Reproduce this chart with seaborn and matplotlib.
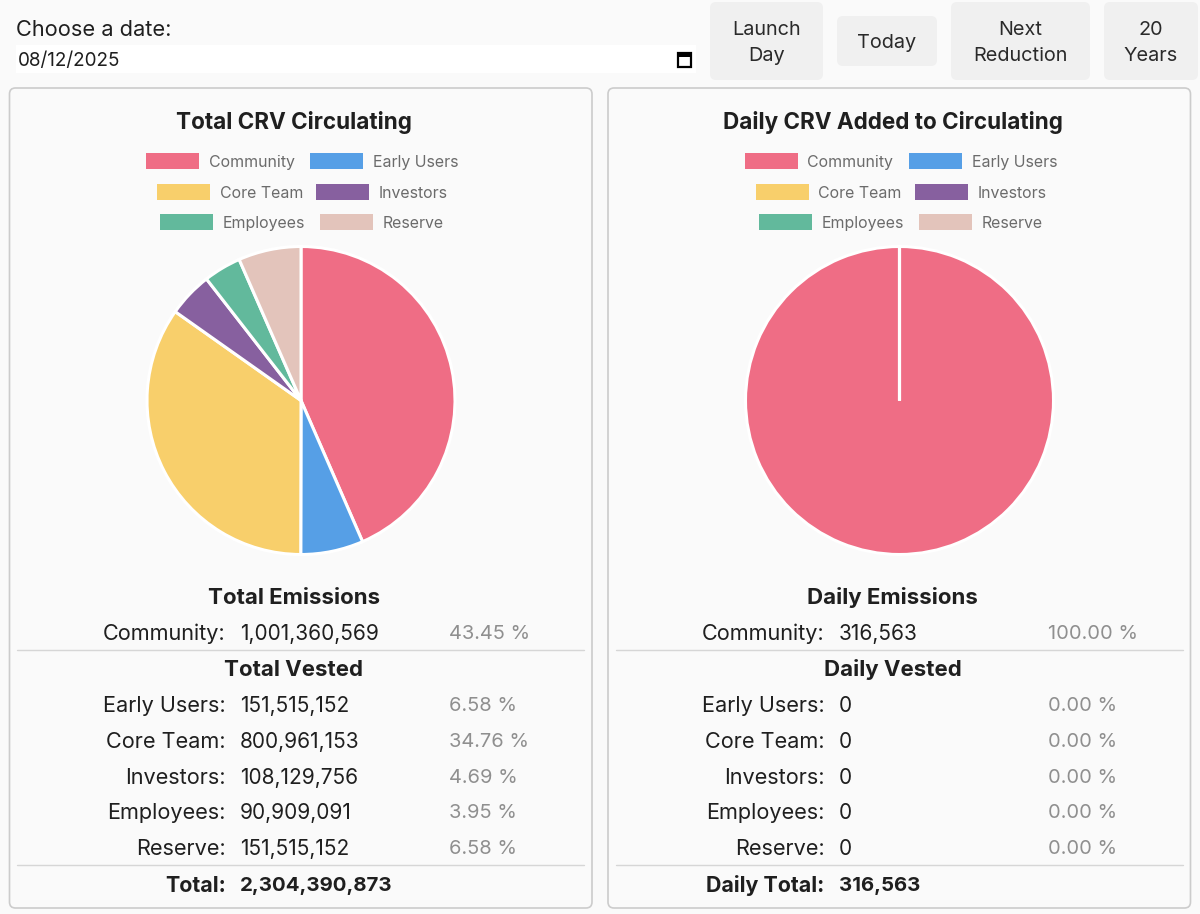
"""
Two CRV emission pies with their legends and breakdown tables.
"""
import matplotlib.pyplot as plt
import seaborn as sns
from matplotlib.patches import FancyBboxPatch, Rectangle

categories = ['Community', 'Early Users', 'Core Team', 'Investors', 'Employees', 'Reserve']
total_values = [1001360569, 151515152, 800961153, 108129756, 90909091, 151515152]
total_pcts = ['43.45 %', '6.58 %', '34.76 %', '4.69 %', '3.95 %', '6.58 %']
daily_values = [316563, 0, 0, 0, 0, 0]
daily_pcts = ['100.00 %', '0.00 %', '0.00 %', '0.00 %', '0.00 %', '0.00 %']
total_sum = '2,304,390,873'
daily_sum = '316,563'
colors = ['#ef6d85', '#569fe6', '#f8cf6b', '#87609f', '#62b99c', '#e3c4bb']
date_text = '08/12/2025'

W, H = 1200, 914
BG = '#fafafa'
DARK = '#1f1f1f'
GREY = '#8f8f8f'
LEGEND_GREY = '#6b6b6b'
FONT = 'Inter'

sns.set_theme(style='white', rc={'figure.facecolor': BG, 'savefig.facecolor': BG})
plt.rcParams['font.family'] = [FONT, 'DejaVu Sans']
palette = sns.color_palette(colors)


def rounded(ax, x0, y0, x1, y1, fc, ec='none', lw=0, r=6):
    box = FancyBboxPatch((x0 + r, y0 + r), x1 - x0 - 2 * r, y1 - y0 - 2 * r,
                         boxstyle=f'round,pad={r},rounding_size={r}',
                         fc=fc, ec=ec, lw=lw)
    ax.add_patch(box)


def draw_pie(fig, values, cx):
    # pie() leaves limits of +-1.25, so the box is 2.5 radii wide
    radius = 154
    cy = 400.5
    side = radius * 2.5
    ax = fig.add_axes([(cx - side / 2) / W, 1 - (cy + side / 2) / H, side / W, side / H])
    ax.pie(values, colors=palette, startangle=90, counterclock=False,
           wedgeprops={'edgecolor': 'white', 'linewidth': 2.2})
    ax.patch.set_visible(False)


def draw_panel(ax, dx, title, heads, values, pcts, total_label, total_text):
    rounded(ax, 9.5 + dx, 88, 592 + dx, 908, BG, ec='#cccccc', lw=1.2)
    ax.text(294 + dx, 123, title, fontsize=16.2, fontweight='bold', color=DARK,
            ha='center', va='center')

    # legend, three rows of two
    swatch_x = [146, 310, 157, 316, 160, 320]
    legend_y = [161, 161, 191.5, 191.5, 222, 222]
    for i, name in enumerate(categories):
        ax.add_patch(Rectangle((swatch_x[i] + dx, legend_y[i] - 8), 53, 16, fc=palette[i], ec='none'))
        ax.text(swatch_x[i] + 63 + dx, legend_y[i] + 1.5, name, fontsize=11.45,
                color=LEGEND_GREY, ha='left', va='center')

    ax.text(294 + dx, 598, heads[0], fontsize=16, fontweight='bold', color=DARK,
            ha='center', va='center')
    ax.text(294 + dx, 670, heads[1], fontsize=16, fontweight='bold', color=DARK,
            ha='center', va='center')

    row_y = [634, 706, 742, 778, 813, 849]
    for i, name in enumerate(categories):
        ax.text(226 + dx, row_y[i], name + ':', fontsize=15.6, color=DARK, ha='right', va='center')
        ax.text(240 + dx, row_y[i], f'{values[i]:,}', fontsize=15, color=DARK, ha='left', va='center')
        ax.text(449 + dx, row_y[i], pcts[i], fontsize=14.4, color=GREY, ha='left', va='center')

    for y in [649.5, 864.5]:
        ax.plot([17 + dx, 584 + dx], [y, y], color='#d6d6d6', lw=1)

    ax.text(226 + dx, 886, total_label, fontsize=15.4, fontweight='bold', color=DARK, ha='right', va='center')
    ax.text(240 + dx, 886, total_text, fontsize=14.7, fontweight='bold', color=DARK, ha='left', va='center')


def draw_header(ax):
    ax.text(16, 30, 'Choose a date:', fontsize=15.7, color=DARK, ha='left', va='center')
    ax.add_patch(Rectangle((16, 45), 680, 28, fc='white', ec='none'))
    ax.text(18, 61, date_text, fontsize=13.6, color=DARK, ha='left', va='center')

    # calendar icon
    ax.add_patch(Rectangle((677.5, 53), 13, 14, fc='white', ec='black', lw=1.6))
    ax.add_patch(Rectangle((677.5, 52.5), 13, 4, fc='black', ec='none'))

    buttons = [(710, 823, 2, 80, 'Launch\nDay'), (837, 937, 16, 66, 'Today'),
               (951, 1090, 2, 80, 'Next\nReduction'), (1104, 1198, 2, 80, '20\nYears')]
    for x0, x1, y0, y1, label in buttons:
        rounded(ax, x0, y0, x1, y1, '#f0f0f0')
        ax.text((x0 + x1) / 2, (y0 + y1) / 2 + 2, label, fontsize=14.3, color='#2a2a2a',
                ha='center', va='center', linespacing=1.6)


def main():
    fig = plt.figure(figsize=(W / 100, H / 100), dpi=100)
    ax = fig.add_axes([0, 0, 1, 1])
    ax.set_xlim(0, W)
    ax.set_ylim(H, 0)
    ax.axis('off')

    draw_header(ax)
    draw_panel(ax, 0, 'Total CRV Circulating', ['Total Emissions', 'Total Vested'],
               total_values, total_pcts, 'Total:', total_sum)
    draw_panel(ax, 598.5, 'Daily CRV Added to Circulating', ['Daily Emissions', 'Daily Vested'],
               daily_values, daily_pcts, 'Daily Total:', daily_sum)
    draw_pie(fig, total_values, 301)
    draw_pie(fig, daily_values, 899.5)
    fig.savefig('out.png', dpi=100)


if __name__ == '__main__':
    main()
